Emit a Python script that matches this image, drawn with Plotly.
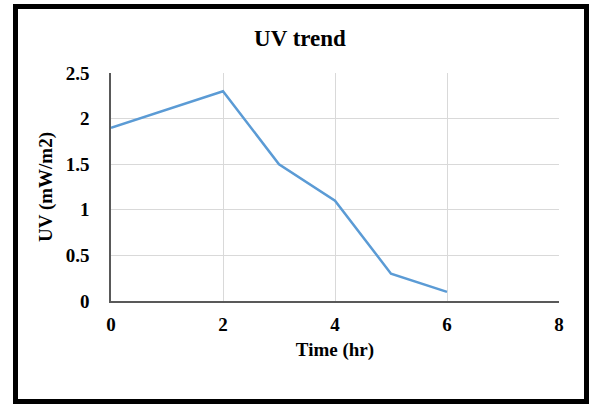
import plotly.graph_objects as go

# UV readings over time
time_hr = [0, 2, 3, 4, 5, 6]
uv_mw_m2 = [1.9, 2.3, 1.5, 1.1, 0.3, 0.1]

x_ticks = [0, 2, 4, 6, 8]
y_ticks = [0, 0.5, 1, 1.5, 2, 2.5]
y_tick_text = ["0", "0.5", "1", "1.5", "2", "2.5"]

W, H = 595, 406
L, R, T, B = 111, 36, 73, 105
pw, ph = W - L - R, H - T - B


def px_x(px):
    return (px - L) / pw


def px_y(py):
    return (H - B - py) / ph


serif = "Liberation Serif, Times New Roman, serif"

fig = go.Figure()
fig.add_trace(go.Scatter(
    x=time_hr, y=uv_mw_m2, mode="lines",
    line=dict(color="#5B9BD5", width=2.5),
    showlegend=False,
))

fig.update_layout(
    width=W, height=H,
    margin=dict(l=L, r=R, t=T, b=B),
    paper_bgcolor="white", plot_bgcolor="white",
    title=dict(text="<b>UV trend</b>", x=px_x(300), xref="paper",
               xanchor="center", y=1 - 38 / H, yanchor="middle",
               font=dict(family=serif, size=23, color="black")),
    font=dict(family=serif, color="black"),
    shapes=[dict(type="rect", xref="paper", yref="paper",
                 x0=px_x(15.5), x1=px_x(586.5),
                 y0=px_y(401.5), y1=px_y(6.5),
                 line=dict(color="black", width=5), layer="above")],
)

fig.update_xaxes(
    range=[0, 8], tickvals=x_ticks, ticktext=[f"<b>{v}</b>" for v in x_ticks],
    tickfont=dict(family=serif, size=19, color="black"),
    showgrid=True, gridcolor="#d9d9d9", gridwidth=1,
    showline=True, linecolor="#595959", linewidth=1.5,
    zeroline=False, ticks="", ticklabelstandoff=5,
    title=dict(text="<b>Time (hr)</b>", font=dict(family=serif, size=19, color="black"),
               standoff=9),
)
fig.update_yaxes(
    range=[0, 2.5], tickvals=y_ticks, ticktext=[f"<b>{t}</b>" for t in y_tick_text],
    tickfont=dict(family=serif, size=19, color="black"),
    showgrid=True, gridcolor="#d9d9d9", gridwidth=1,
    showline=True, linecolor="#595959", linewidth=1.5,
    zeroline=False, ticks="", ticklabelstandoff=16,
    title=dict(text="<b>UV (mW/m2)</b>", font=dict(family=serif, size=19, color="black"),
               standoff=8),
)

fig.write_html("out.html")
